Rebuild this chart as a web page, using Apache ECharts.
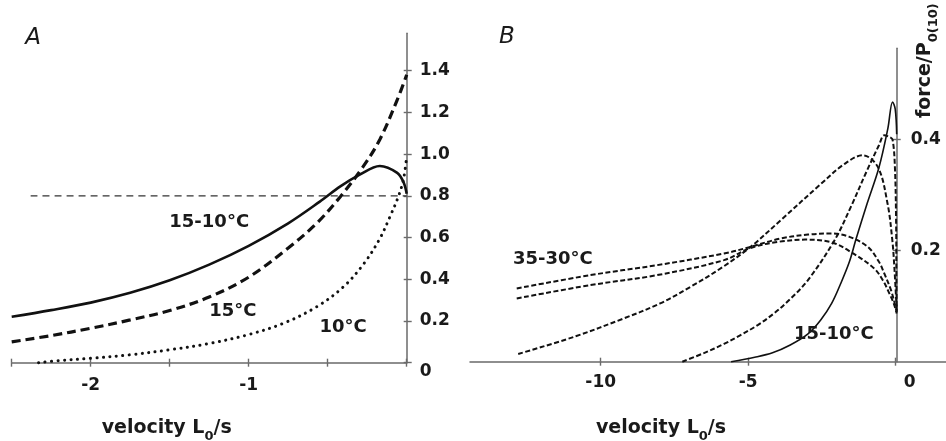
<!DOCTYPE html>
<html>
<head>
<meta charset="utf-8">
<script src="https://cdn.jsdelivr.net/npm/echarts@6/dist/echarts.min.js"></script>
<style>
html, body { margin: 0; padding: 0; background: #fff; }
#chart { width: 946px; height: 441px; }
</style>
</head>
<body>
<div id="chart"></div>
<script>
// ---- Panel A: force vs. lengthening velocity (L0/s), 10 and 15 degC ----
const curveA_15_10 = [[-2.5,0.22],[-2.25,0.252],[-2.0,0.288],[-1.75,0.335],[-1.5,0.395],[-1.25,0.47],[-1.0,0.56],[-0.75,0.668],[-0.55,0.772],[-0.42,0.845],[-0.3,0.9],[-0.17,0.943],[-0.06,0.91],[-0.02,0.865],[0,0.81]];
const curveA_15 = [[-2.5,0.10],[-2.25,0.13],[-2.0,0.165],[-1.75,0.205],[-1.5,0.25],[-1.25,0.315],[-1.0,0.41],[-0.75,0.55],[-0.57,0.668],[-0.42,0.796],[-0.28,0.935],[-0.17,1.07],[-0.06,1.26],[0,1.38]];
const curveA_10 = [[-2.33,0.0],[-2.2,0.01],[-2.0,0.021],[-1.75,0.038],[-1.5,0.062],[-1.25,0.092],[-1.0,0.135],[-0.78,0.189],[-0.57,0.268],[-0.4,0.364],[-0.27,0.476],[-0.17,0.595],[-0.106,0.7],[-0.053,0.796],[-0.02,0.88],[0,0.99]];
const refLineA = [[-2.38,0.8],[0,0.8]];
const yTicksA = [0, 0.2, 0.4, 0.6, 0.8, 1.0, 1.2, 1.4];
const xTicksA = [-2.5, -2, -1.5, -1, -0.5, 0];
const xLabelsA = [-2, -1];

// ---- Panel B: force/P0(10) vs. velocity, 10 to 35 degC ----
const curveB_15_10 = [[-5.6,0],[-4.8,0.008],[-4.2,0.016],[-3.6,0.03],[-3.0,0.05],[-2.57,0.075],[-2.2,0.105],[-1.9,0.14],[-1.6,0.18],[-1.38,0.22],[-1.0,0.285],[-0.6,0.35],[-0.3,0.42],[-0.14,0.468],[-0.05,0.455],[0,0.41]];
const curveB_peak41 = [[-7.25,0],[-6.5,0.016],[-5.84,0.032],[-5.28,0.048],[-4.7,0.066],[-4.15,0.087],[-3.6,0.113],[-3.0,0.147],[-2.1,0.219],[-1.55,0.279],[-1.0,0.345],[-0.6,0.39],[-0.42,0.408],[-0.25,0.405],[-0.14,0.40],[-0.06,0.35],[-0.02,0.25],[-0.01,0.15],[0,0.09]];
const curveB_peak37 = [[-12.8,0.014],[-10.9,0.045],[-9.23,0.078],[-8.0,0.105],[-6.97,0.135],[-5.9,0.17],[-4.94,0.207],[-3.92,0.255],[-2.57,0.32],[-1.8,0.355],[-1.15,0.372],[-0.64,0.351],[-0.31,0.285],[-0.15,0.22],[-0.08,0.171],[0,0.093]];
const curveB_35_30a = [[-12.85,0.132],[-10.36,0.156],[-8.1,0.174],[-5.84,0.195],[-4.94,0.207],[-3.93,0.222],[-3.0,0.229],[-2.2,0.231],[-1.6,0.225],[-0.98,0.207],[-0.6,0.18],[-0.42,0.159],[-0.2,0.13],[-0.08,0.108],[0,0.09]];
const curveB_35_30b = [[-12.85,0.114],[-10.36,0.138],[-8.1,0.156],[-5.84,0.183],[-4.94,0.205],[-4.0,0.216],[-3.1,0.22],[-2.2,0.215],[-1.5,0.196],[-0.76,0.168],[-0.45,0.145],[-0.25,0.123],[-0.1,0.105],[0,0.087]];
const yTicksB = [0.2, 0.4];
const xTicksB = [-10, -5, 0];

const FONT = 'DejaVu Sans';
const INK = '#1a1a1a';
const AXIS = '#6a6a6a';

const chart = echarts.init(document.getElementById('chart'), null, { renderer: 'canvas' });

function line(data, xi, yi, style, mark) {
  const s = {
    type: 'line', data: data, xAxisIndex: xi, yAxisIndex: yi,
    symbol: 'none', showSymbol: false, smooth: 0.35, silent: true, clip: false,
    lineStyle: Object.assign({ color: '#111' }, style),
    animation: false, z: 3
  };
  if (mark) {
    s.markPoint = {
      symbol: 'circle', symbolSize: 1, silent: true, animation: false,
      itemStyle: { color: 'rgba(0,0,0,0)' },
      label: { show: true, position: 'inside', formatter: '{b}', fontFamily: FONT, fontWeight: 'bold', fontSize: 18, color: INK },
      data: mark
    };
  }
  return s;
}

const tickStyle = { color: AXIS, width: 1.4 };
const labelBase = { fontFamily: FONT, fontWeight: 'bold', fontSize: 17, color: INK };
const nameRich = {
  a: { fontFamily: FONT, fontWeight: 'bold', fontSize: 19, color: INK, padding: [0, 0, 5, 0], verticalAlign: 'bottom' },
  s: { fontFamily: FONT, fontWeight: 'bold', fontSize: 13, color: INK, verticalAlign: 'bottom' }
};
const hiddenAxis = { show: false, axisLine: { show: false }, axisTick: { show: false }, axisLabel: { show: false }, splitLine: { show: false } };

const option = {
  backgroundColor: '#fff',
  animation: false,
  grid: [
    // panel A
    { left: 11.7, top: 33.3, width: 395, height: 329.4, containLabel: false, outerBoundsMode: 'none' },
    // panel B, full width of the velocity axis
    { left: 470, top: 48.3, width: 476, height: 313.4, containLabel: false, outerBoundsMode: 'none' },
    // panel B, plotting area that ends at zero velocity
    { left: 470, top: 48.3, width: 426.7, height: 313.4, containLabel: false, outerBoundsMode: 'none' }
  ],
  xAxis: [
    {
      gridIndex: 0, type: 'value', min: -2.5, max: 0, position: 'bottom',
      axisLine: { show: true, onZero: false, lineStyle: { color: AXIS, width: 1.5 } },
      axisTick: { show: true, customValues: xTicksA, length: 4, lineStyle: tickStyle },
      axisLabel: Object.assign({ customValues: xLabelsA, margin: 14 }, labelBase),
      splitLine: { show: false },
      name: '{a|velocity L}{s|0}{a|/s}', nameLocation: 'middle', nameGap: 56,
      nameTextStyle: { rich: nameRich, padding: [0, 85, 0, 0] }
    },
    {
      gridIndex: 0, type: 'value', min: -2.5, max: 0, position: 'bottom',
      axisLine: { show: false, onZero: false },
      axisTick: { show: true, inside: true, customValues: xTicksA, length: 4, lineStyle: tickStyle },
      axisLabel: { show: false }, splitLine: { show: false }
    },
    {
      gridIndex: 1, type: 'value', min: -14.43, max: 1.705, position: 'bottom',
      axisLine: { show: true, onZero: false, lineStyle: { color: AXIS, width: 1.5 } },
      axisTick: { show: true, customValues: xTicksB, length: 4, lineStyle: tickStyle },
      axisLabel: Object.assign({
        customValues: xTicksB, margin: 12,
        formatter: function (v) { return v === 0 ? '{r|0}' : String(v); },
        rich: { r: Object.assign({ padding: [0, 0, 0, 28] }, labelBase) }
      }, labelBase),
      splitLine: { show: false },
      name: '{a|velocity L}{s|0}{a|/s}', nameLocation: 'middle', nameGap: 57,
      nameTextStyle: { rich: nameRich, padding: [0, 94, 0, 0] }
    },
    {
      gridIndex: 1, type: 'value', min: -14.43, max: 1.705, position: 'bottom',
      axisLine: { show: false, onZero: false },
      axisTick: { show: true, inside: true, customValues: xTicksB, length: 4, lineStyle: tickStyle },
      axisLabel: { show: false }, splitLine: { show: false }
    },
    Object.assign({ gridIndex: 2, type: 'value', min: -14.43, max: 0 }, hiddenAxis)
  ],
  yAxis: [
    {
      gridIndex: 0, type: 'value', min: 0, max: 1.579, position: 'right',
      axisLine: { show: true, onZero: false, lineStyle: { color: AXIS, width: 1.5 } },
      axisTick: { show: true, customValues: yTicksA, length: 5, lineStyle: tickStyle },
      axisLabel: Object.assign({
        customValues: yTicksA, margin: 13,
        formatter: function (v) { return v === 0 ? '{z|0}' : v.toFixed(1); },
        rich: { z: Object.assign({ padding: [17, 0, 0, 0] }, labelBase) }
      }, labelBase),
      splitLine: { show: false }
    },
    {
      gridIndex: 0, type: 'value', min: 0, max: 1.579, position: 'right',
      axisLine: { show: false, onZero: false },
      axisTick: { show: true, inside: true, customValues: yTicksA, length: 3, lineStyle: tickStyle },
      axisLabel: { show: false }, splitLine: { show: false }
    },
    Object.assign({ gridIndex: 1, type: 'value', min: 0, max: 0.5647 }, hiddenAxis),
    {
      gridIndex: 2, type: 'value', min: 0, max: 0.5647, position: 'right',
      axisLine: { show: true, onZero: false, lineStyle: { color: AXIS, width: 1.5 } },
      axisTick: { show: true, customValues: yTicksB, length: 4, lineStyle: tickStyle },
      axisLabel: Object.assign({ customValues: yTicksB, margin: 14, formatter: function (v) { return v.toFixed(1); } }, labelBase),
      splitLine: { show: false }
    },
    {
      gridIndex: 2, type: 'value', min: 0, max: 0.5647, position: 'right',
      axisLine: { show: false, onZero: false },
      axisTick: { show: true, inside: true, customValues: yTicksB, length: 4, lineStyle: tickStyle },
      axisLabel: { show: false }, splitLine: { show: false }
    }
  ],
  graphic: [
    { type: 'text', x: 33, y: 38, silent: true,
      style: { text: 'A', fontFamily: FONT, fontStyle: 'italic', fontSize: 23, fill: INK,
               textAlign: 'center', textVerticalAlign: 'middle', align: 'center', verticalAlign: 'middle' } },
    { type: 'text', x: 507, y: 37, silent: true,
      style: { text: 'B', fontFamily: FONT, fontStyle: 'italic', fontSize: 23, fill: INK,
               textAlign: 'center', textVerticalAlign: 'middle', align: 'center', verticalAlign: 'middle' } },
    { type: 'text', x: 940, y: 118, rotation: Math.PI / 2, silent: true,
      style: {
        text: '{a|force/P}{s|0(10)}',
        textAlign: 'left', textVerticalAlign: 'bottom', align: 'left', verticalAlign: 'bottom',
        rich: {
          a: { fontFamily: FONT, fontWeight: 'bold', fontSize: 19, fill: INK, color: INK, padding: [0, 0, 5, 0], verticalAlign: 'bottom' },
          s: { fontFamily: FONT, fontWeight: 'bold', fontSize: 13, fill: INK, color: INK, verticalAlign: 'bottom' }
        }
      } }
  ],
  series: [
    line(refLineA, 0, 0, { width: 1.2, type: [7, 5], color: '#333' }),
    line(curveA_15_10, 0, 0, { width: 2.6, type: 'solid' }, [{ name: '15-10°C', coord: [-1.25, 0.672] }]),
    line(curveA_15, 0, 0, { width: 3.2, type: [9, 5] }, [{ name: '15°C', coord: [-1.1, 0.245] }]),
    line(curveA_10, 0, 0, { width: 3, type: [0.1, 6.4], cap: 'round' }, [{ name: '10°C', coord: [-0.403, 0.169] }]),

    line(curveB_15_10, 4, 3, { width: 1.6, type: 'solid' }, [{ name: '15-10°C', coord: [-2.125, 0.05] }]),
    line(curveB_peak41, 4, 3, { width: 2, type: [5, 2.5] }),
    line(curveB_peak37, 4, 3, { width: 2, type: [5, 2.5] }),
    line(curveB_35_30a, 4, 3, { width: 2, type: [5, 2.5] }, [{ name: '35-30°C', coord: [-11.63, 0.185] }]),
    line(curveB_35_30b, 4, 3, { width: 2, type: [5, 2.5] })
  ]
};

chart.setOption(option);
</script>
</body>
</html>
